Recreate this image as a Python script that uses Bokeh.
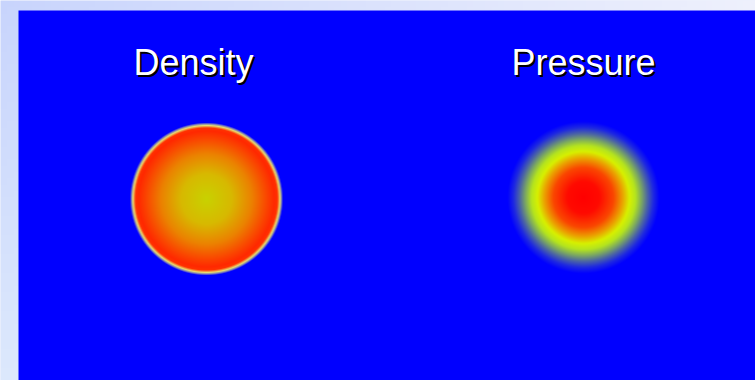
import numpy as np
from bokeh.plotting import figure
from bokeh.models import Range1d
from bokeh.core.properties import value
from bokeh.embed import file_html
from bokeh.resources import INLINE

# ---- data (reference pixel coordinates) ----
titles = ["Density", "Pressure"]
title_x = [133, 511]
title_y = [62, 62]

density_center = (206.0, 198.5)
density_r = [0, 25, 45, 60, 68, 71, 73.5, 75, 76.5]
density_R = [200, 215, 235, 250, 255, 255, 232, 130, 0]
density_G = [210, 185, 130, 70, 40, 50, 222, 130, 0]
density_B = [0, 0, 0, 0, 0, 0, 110, 180, 255]

pressure_center = (583.0, 197.0)
pressure_r = [0, 16, 30, 39, 46, 52, 58, 64, 70, 76]
pressure_R = [255, 255, 250, 235, 215, 180, 125, 75, 30, 0]
pressure_G = [0, 10, 70, 160, 240, 228, 170, 100, 40, 0]
pressure_B = [0, 0, 0, 0, 0, 30, 95, 165, 225, 255]

panel = dict(left=18, right=755, top=10, bottom=380)
panel_color = "#0000ff"
bg_corners = {"tl": (200, 212, 252), "tr": (238, 240, 252),
              "bl": (220, 232, 252), "br": (240, 244, 252)}

W, H = 755, 380
XMAX = 755.0
YMAX = 380.0

p = figure(width=W, height=H, x_range=Range1d(0, XMAX), y_range=Range1d(YMAX, 0),
           output_backend="svg", toolbar_location=None, min_border=0)
p.axis.visible = False
p.grid.visible = False
p.outline_line_color = None
p.background_fill_color = "#dce4fc"
p.border_fill_color = "#dce4fc"


def pack(r, g, b):
    r = np.clip(np.round(r), 0, 255).astype(np.uint32)
    g = np.clip(np.round(g), 0, 255).astype(np.uint32)
    b = np.clip(np.round(b), 0, 255).astype(np.uint32)
    return (255 << 24) | (b << 16) | (g << 8) | r


# background gradient
ny, nx = 60, 120
fy = np.linspace(0, 1, ny)[:, None]
fx = np.linspace(0, 1, nx)[None, :]
chan = []
for k in range(3):
    tl, tr, bl, br = (bg_corners[c][k] for c in ("tl", "tr", "bl", "br"))
    chan.append((1 - fy) * ((1 - fx) * tl + fx * tr) + fy * ((1 - fx) * bl + fx * br))
bg = pack(*chan)
p.image_rgba(image=[bg], x=0, y=0, dw=XMAX, dh=YMAX)

p.quad(left=panel["left"], right=panel["right"], top=panel["top"], bottom=panel["bottom"],
       fill_color=panel_color, line_color=None)


def disk(center, rs, R, G, B, half=90):
    n = 2 * half
    c = np.arange(n) + 0.5 - half
    rr = np.sqrt(c[None, :] ** 2 + c[:, None] ** 2)
    img = pack(np.interp(rr, rs, R), np.interp(rr, rs, G), np.interp(rr, rs, B))
    p.image_rgba(image=[img], x=center[0] - half, y=center[1] - half, dw=n, dh=n)


disk(density_center, density_r, density_R, density_G, density_B)
disk(pressure_center, pressure_r, pressure_R, pressure_G, pressure_B)

font = value("Liberation Sans")
size = "36px"
p.text(x=[x + 2 for x in title_x], y=[y + 2 for y in title_y], text=titles,
       text_font=font, text_font_size=size, text_color="#000000",
       text_baseline="alphabetic", text_align="left")
p.text(x=title_x, y=title_y, text=titles,
       text_font=font, text_font_size=size, text_color="#ffffff",
       text_baseline="alphabetic", text_align="left")

open("out.html", "w").write(file_html(p, INLINE))
